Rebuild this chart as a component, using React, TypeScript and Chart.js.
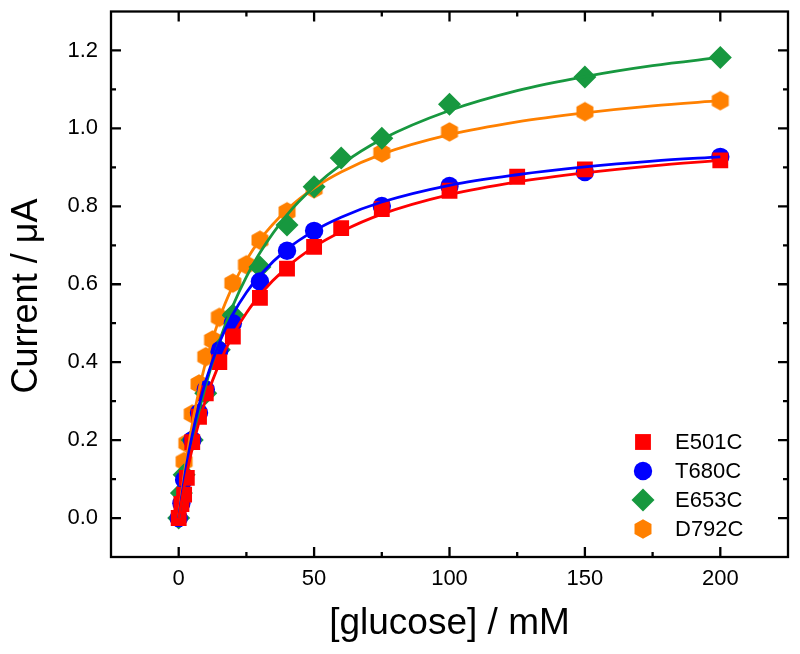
import { useEffect, useRef } from 'react';
import { Chart, registerables } from 'chart.js';
import { drawPoint } from 'chart.js/helpers';

Chart.register(...registerables);

const FONT = "'Liberation Sans', Arial, sans-serif";

const seriesNames = ['E501C', 'T680C', 'E653C', 'D792C'];
const seriesColors = ['#FF0000', '#0000FF', '#17983F', '#FF8000'];

// measured points
const e501cX = [0, 1, 2, 3, 5, 7.5, 10, 15, 20, 30, 40, 50, 60, 75, 100, 125, 150, 200];
const e501cY = [0, 0.036, 0.06, 0.103, 0.195, 0.26, 0.32, 0.4, 0.466, 0.565, 0.64, 0.696, 0.744, 0.793, 0.84, 0.876, 0.895, 0.918];

const t680cX = [0, 1, 2, 5, 7.5, 10, 15, 20, 30, 40, 50, 75, 100, 150, 200];
const t680cY = [0, 0.038, 0.098, 0.2, 0.27, 0.33, 0.43, 0.5, 0.607, 0.686, 0.737, 0.801, 0.852, 0.888, 0.927];

const e653cX = [0, 1, 2, 5, 10, 15, 20, 30, 40, 50, 60, 75, 100, 150, 200];
const e653cY = [0, 0.064, 0.111, 0.2, 0.32, 0.432, 0.521, 0.644, 0.752, 0.85, 0.924, 0.975, 1.062, 1.132, 1.182];

const d792cX = [2, 3, 5, 7.5, 10, 12.5, 15, 20, 25, 30, 40, 50, 75, 100, 150, 200];
const d792cY = [0.145, 0.192, 0.267, 0.344, 0.414, 0.457, 0.515, 0.603, 0.65, 0.713, 0.786, 0.845, 0.937, 0.991, 1.043, 1.071];

// fitted curves
const fitX = [0, 1, 2, 3, 5, 7.5, 10, 15, 20, 25, 30, 40, 50, 60, 75, 100, 125, 150, 175, 200];
const e501cFit = [0, 0.041, 0.08, 0.115, 0.178, 0.246, 0.304, 0.397, 0.469, 0.526, 0.573, 0.644, 0.696, 0.735, 0.78, 0.83, 0.863, 0.886, 0.904, 0.918];
const t680cFit = [0, 0.051, 0.098, 0.14, 0.213, 0.289, 0.352, 0.45, 0.523, 0.579, 0.623, 0.69, 0.737, 0.772, 0.811, 0.854, 0.881, 0.901, 0.916, 0.927];
const e653cFit = [0, 0.044, 0.085, 0.124, 0.195, 0.273, 0.341, 0.454, 0.545, 0.619, 0.681, 0.778, 0.85, 0.907, 0.972, 1.046, 1.097, 1.133, 1.161, 1.182];
const d792cFit = [0, 0.058, 0.11, 0.157, 0.241, 0.328, 0.4, 0.512, 0.596, 0.662, 0.714, 0.791, 0.847, 0.888, 0.934, 0.984, 1.017, 1.04, 1.058, 1.071];

const xMajorTicks = [0, 50, 100, 150, 200];
const xMinorTicks = [25, 75, 125, 175];
const yMajorTicks = [0, 0.2, 0.4, 0.6, 0.8, 1.0, 1.2];
const yMinorTicks = [0.1, 0.3, 0.5, 0.7, 0.9, 1.1];

const zip = (xs: number[], ys: number[]) => xs.map((x, i) => ({ x, y: ys[i] }));

function makeHexagon(color: string, r: number) {
  const c = document.createElement('canvas');
  const s = Math.ceil(2 * r + 2);
  c.width = s;
  c.height = s;
  const g = c.getContext('2d')!;
  g.fillStyle = color;
  g.beginPath();
  for (let i = 0; i < 6; i++) {
    const a = -Math.PI / 2 + (i * Math.PI) / 3;
    const px = s / 2 + r * Math.cos(a);
    const py = s / 2 + r * Math.sin(a);
    if (i === 0) g.moveTo(px, py);
    else g.lineTo(px, py);
  }
  g.closePath();
  g.fill();
  return c;
}

export default function App() {
  const ref = useRef<HTMLCanvasElement>(null);

  useEffect(() => {
    if (!ref.current) return;
    const hex = makeHexagon(seriesColors[3], 9.8);
    const markerStyles: any[] = [
      { pointStyle: 'rect', radius: 11.2 },
      { pointStyle: 'circle', radius: 9.2 },
      { pointStyle: 'rectRot', radius: 11.5 },
      { pointStyle: hex, radius: 10 },
    ];

    const pointSets = [zip(e501cX, e501cY), zip(t680cX, t680cY), zip(e653cX, e653cY), zip(d792cX, d792cY)];
    const fitSets = [zip(fitX, e501cFit), zip(fitX, t680cFit), zip(fitX, e653cFit), zip(fitX, d792cFit)];

    const lineDatasets = fitSets.map((d, i) => ({
      type: 'line' as const,
      label: seriesNames[i] + ' fit',
      data: d,
      borderColor: seriesColors[i],
      borderWidth: 2.8,
      pointRadius: 0,
      fill: false,
      showLine: true,
      cubicInterpolationMode: 'monotone' as const,
    }));
    const scatterDatasets = pointSets.map((d, i) => ({
      type: 'scatter' as const,
      label: seriesNames[i],
      data: d,
      backgroundColor: seriesColors[i],
      borderColor: seriesColors[i],
      borderWidth: 0,
      pointStyle: markerStyles[i].pointStyle,
      pointRadius: markerStyles[i].radius,
      pointHoverRadius: markerStyles[i].radius,
    }));

    const framePlugin = {
      id: 'frame',
      afterDraw(chart: any) {
        const { ctx, chartArea: ca } = chart;
        const xs = chart.scales.x;
        const ys = chart.scales.y;
        ctx.save();
        ctx.strokeStyle = '#000';
        ctx.lineWidth = 2.3;
        ctx.lineCap = 'butt';
        ctx.strokeRect(ca.left, ca.top, ca.right - ca.left, ca.bottom - ca.top);
        const tick = (len: number, vals: number[], horiz: boolean) => {
          vals.forEach((v) => {
            ctx.beginPath();
            if (horiz) {
              const p = xs.getPixelForValue(v);
              ctx.moveTo(p, ca.bottom);
              ctx.lineTo(p, ca.bottom - len);
              ctx.moveTo(p, ca.top);
              ctx.lineTo(p, ca.top + len);
            } else {
              const p = ys.getPixelForValue(v);
              ctx.moveTo(ca.left, p);
              ctx.lineTo(ca.left + len, p);
              ctx.moveTo(ca.right, p);
              ctx.lineTo(ca.right - len, p);
            }
            ctx.stroke();
          });
        };
        tick(10, xMajorTicks, true);
        tick(5, xMinorTicks, true);
        tick(10, yMajorTicks, false);
        tick(5, yMinorTicks, false);

        // axis titles
        ctx.fillStyle = '#000';
        ctx.font = `37px ${FONT}`;
        ctx.textAlign = 'center';
        ctx.textBaseline = 'alphabetic';
        ctx.fillText('[glucose] / mM', (ca.left + ca.right) / 2, 634);
        ctx.font = `36px ${FONT}`;
        ctx.save();
        ctx.translate(37, 296);
        ctx.rotate(-Math.PI / 2);
        ctx.fillText('Current / \u03bcA', 0, 0);
        ctx.restore();

        // legend
        ctx.font = `22px ${FONT}`;
        ctx.textAlign = 'left';
        ctx.textBaseline = 'middle';
        seriesNames.forEach((name, i) => {
          const y = 442 + i * 29;
          ctx.fillStyle = seriesColors[i];
          ctx.beginPath();
          drawPoint(ctx, { pointStyle: markerStyles[i].pointStyle, radius: markerStyles[i].radius, rotation: 0, borderWidth: 0 } as any, 643, y);
          ctx.fillStyle = '#000';
          ctx.fillText(name, 675, y + 1);
        });
        ctx.restore();
      },
    };

    const chart = new Chart(ref.current, {
      type: 'scatter',
      data: { datasets: [...lineDatasets, ...scatterDatasets] as any },
      options: {
        animation: false,
        responsive: true,
        maintainAspectRatio: false,
        events: [],
        layout: { padding: { top: 11, right: 12, left: 0, bottom: 0 } },
        plugins: { legend: { display: false }, tooltip: { enabled: false } },
        scales: {
          x: {
            type: 'linear',
            min: -25,
            max: 225,
            grid: { display: false, drawTicks: false },
            border: { display: false },
            ticks: {
              color: '#000',
              font: { family: FONT, size: 22 },
              padding: 9,
              autoSkip: false,
              maxRotation: 0,
              callback: (v: any) => String(v),
            },
            afterBuildTicks: (s: any) => {
              s.ticks = xMajorTicks.map((v) => ({ value: v }));
            },
            afterFit: (s: any) => {
              s.height = 97;
              s.paddingLeft = 0;
              s.paddingRight = 0;
            },
          },
          y: {
            type: 'linear',
            min: -0.1,
            max: 1.3,
            grid: { display: false, drawTicks: false },
            border: { display: false },
            ticks: {
              color: '#000',
              font: { family: FONT, size: 22 },
              padding: 13,
              autoSkip: false,
              callback: (v: any) => Number(v).toFixed(1),
            },
            afterBuildTicks: (s: any) => {
              s.ticks = yMajorTicks.map((v) => ({ value: v }));
            },
            afterFit: (s: any) => {
              s.width = 111;
              s.paddingTop = 0;
              s.paddingBottom = 0;
            },
          },
        },
      },
      plugins: [framePlugin],
    });
    return () => chart.destroy();
  }, []);

  return (
    <div style={{ position: 'absolute', left: 0, top: 0, width: 800, height: 654 }}>
      <canvas ref={ref} />
    </div>
  );
}
